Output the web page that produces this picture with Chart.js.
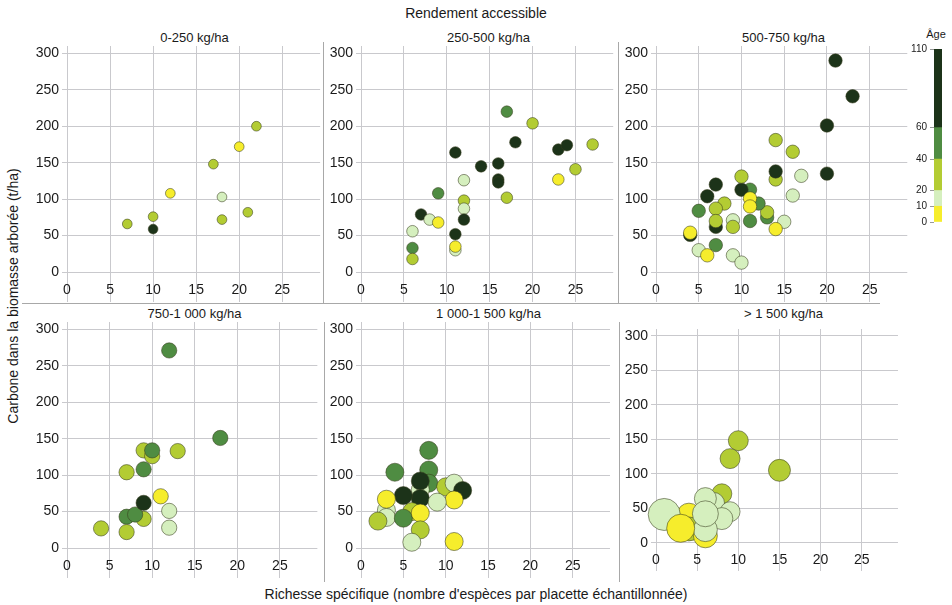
<!DOCTYPE html>
<html><head><meta charset="utf-8">
<script src="https://cdn.jsdelivr.net/npm/chart.js@4.4.1/dist/chart.umd.min.js"></script>
<style>
html,body{margin:0;padding:0;background:#fff;}
body{width:952px;height:605px;position:relative;overflow:hidden;font-family:"Liberation Sans",Arial,Helvetica,sans-serif;color:#1a1a1a;}
canvas{position:absolute;}
.t{position:absolute;font-size:13px;line-height:15px;text-align:center;white-space:nowrap;}
.sep{position:absolute;background:#a8a8a8;}
</style></head><body>
<div class="t" style="left:0;width:952px;top:5px;font-size:14px;line-height:16px;">Rendement accessible</div>
<div class="t" style="left:0;width:952px;top:586px;font-size:14px;line-height:16px;">Richesse spécifique (nombre d'espèces par placette échantillonnée)</div>
<div class="t" style="left:-137px;top:288px;width:300px;font-size:14px;line-height:16px;transform:rotate(-90deg);">Carbone dans la biomasse arborée (t/ha)</div>
<div class="t" style="left:920px;width:32px;top:28px;font-size:11px;line-height:13px;">Âge</div>
<div id="titles"></div>
<div class="sep" style="left:323px;top:42px;width:1px;height:261px;"></div>
<div class="sep" style="left:618px;top:42px;width:1px;height:261px;"></div>
<div class="sep" style="left:22px;top:303px;width:858px;height:1px;"></div>
<div class="sep" style="left:324px;top:322px;width:1px;height:260px;"></div>
<div class="sep" style="left:619px;top:322px;width:1px;height:260px;"></div>
<script>
// ---- Data ----
const panelTitles = ['0-250 kg/ha','250-500 kg/ha','500-750 kg/ha','750-1 000 kg/ha','1 000-1 500 kg/ha','> 1 500 kg/ha'];
const xTicks = [0,5,10,15,20,25];
const yTicks = [0,50,100,150,200,250,300];
const ageBreaks = [0,10,20,40,60,110];
const ageColors = ['#f6ed2c','#d5efbe','#b3cc33','#4f8c42','#1c3319'];
// representative yield (kg/ha) of each class, used for bubble size
const panelYield = [125,375,625,875,1250];

// Panel 1 : 0-250 kg/ha
const p1Richesse = [7,10,10,12,17,18,18,20,21,22];
const p1Carbone  = [66,76,59,108,148,103,72,172,82,200];
const p1Age      = [30,30,80,5,30,15,30,5,30,30];

// Panel 2 : 250-500 kg/ha
const p2Richesse = [6,6,6,7,8,9,9,11,11,11,11,12,12,12,12,14,16,16,16,17,17,18,20,23,24,23,25,27];
const p2Carbone  = [56,33,18,79,72,108,68,164,52,30,35,126,98,87,72,145,149,127,123,220,102,178,204,168,174,127,141,175];
const p2Age      = [15,50,30,80,15,50,5,80,80,15,5,15,30,15,80,80,80,80,80,50,30,80,30,80,80,5,30,30];

// Panel 3 : 500-750 kg/ha
const p3Richesse = [21,23,20,20,14,16,17,14,14,16,15,14,13,13,12,11,10,10,11,11,11,8,7,7,6,5,7,7,9,9,4,4,7,5,6,9,10];
const p3Carbone  = [290,241,201,135,181,165,132,127,138,105,69,59,75,82,94,113,113,131,101,90,70,94,87,120,104,84,62,70,71,62,51,54,37,30,23,23,13];
const p3Age      = [80,80,80,80,30,30,15,30,80,15,15,5,50,30,50,50,80,30,5,5,50,30,30,80,80,50,80,30,15,30,80,5,50,15,5,15,15];

// Panel 4 : 750-1 000 kg/ha
const p4Richesse = [12,18,9,10,10,13,7,9,11,9,7,8,9,12,12,7,4];
const p4Carbone  = [271,151,134,126,134,133,104,108,71,40,43,46,62,51,28,22,27];
const p4Age      = [50,50,30,30,50,30,30,50,5,30,50,50,80,15,15,30,30];

// Panel 5 : 1 000-1 500 kg/ha
const p5Richesse = [8,8,4,8,7,7,7,5,10,11,12,11,9,3,3,2,6,5,3,7,7,6,11];
const p5Carbone  = [134,107,104,89,80,92,68,72,84,89,79,66,63,52,42,37,50,41,67,48,25,8,9];
const p5Age      = [50,50,50,50,15,80,80,80,30,15,80,5,15,15,15,30,30,50,5,5,30,15,5];

// Panel 6 : > 1 500 kg/ha (yield estimated per plot from bubble size)
const p6Richesse = [10,9,15,8,7,6,9,8,4,4,6,6,1,3,6];
const p6Carbone  = [148,122,105,71,57,64,45,35,40,20,10,19,41,21,42];
const p6Age      = [30,30,30,30,15,15,15,15,5,30,5,15,15,5,15];
const p6Yield    = [1510,1510,1780,1510,1780,1780,1510,1780,2050,2050,2050,2050,3140,2600,2320];

// ---- Rendering ----
const FONT = '"Liberation Sans", Arial, Helvetica, sans-serif';
const gridColor = '#c9c9cd';
function ageColor(a){ for(let i=0;i<ageColors.length;i++){ if(a<ageBreaks[i+1]) return ageColors[i]; } return ageColors[ageColors.length-1]; }
function rayon(y){ return 4.4 + 0.0037*y; }

const panels = [
  [p1Richesse,p1Carbone,p1Age,p1Richesse.map(()=>panelYield[0])],
  [p2Richesse,p2Carbone,p2Age,p2Richesse.map(()=>panelYield[1])],
  [p3Richesse,p3Carbone,p3Age,p3Richesse.map(()=>panelYield[2])],
  [p4Richesse,p4Carbone,p4Age,p4Richesse.map(()=>panelYield[3])],
  [p5Richesse,p5Carbone,p5Age,p5Richesse.map(()=>panelYield[4])],
  [p6Richesse,p6Carbone,p6Age,p6Yield]
];
const colLeft = [27,321,616];
const rowTop = [36,312];
const W = 299, H = 276, YW = 40, PAD_T = 10, PAD_B = 10, PAD_R = 4;

panels.forEach((p,idx)=>{
  const col = idx%3, row = Math.floor(idx/3);
  const cv = document.createElement('canvas');
  cv.width = W; cv.height = H;
  cv.style.left = colLeft[col]+'px'; cv.style.top = rowTop[row]+'px';
  cv.style.width = W+'px'; cv.style.height = H+'px';
  document.body.appendChild(cv);
  const t = document.createElement('div');
  t.className = 't';
  t.style.left = (colLeft[col]+YW)+'px';
  t.style.width = (W-YW-PAD_R)+'px';
  t.style.top = (rowTop[row]-6)+'px';
  t.textContent = panelTitles[idx];
  document.getElementById('titles').appendChild(t);
  const [xs,ys,ages,yields] = p;
  new Chart(cv,{
    type:'bubble',
    data:{datasets:[{
      data: xs.map((x,i)=>({x:x,y:ys[i],r:rayon(yields[i])})),
      backgroundColor: ages.map(ageColor),
      borderColor: 'rgba(55,60,30,0.55)',
      borderWidth: 1,
      clip: false
    }]},
    options:{
      responsive:false, animation:false, events:[],
      layout:{padding:{top:PAD_T,bottom:PAD_B,right:PAD_R,left:0}},
      plugins:{legend:{display:false},tooltip:{enabled:false}},
      scales:{
        x:{type:'linear',min:0,max:29.4,position:{y:-13},
          afterBuildTicks:s=>{s.ticks = xTicks.map(v=>({value:v}));},
          afterFit:s=>{s.paddingLeft=0;s.paddingRight=0;},
          grid:{color:gridColor,drawTicks:false,lineWidth:1},
          border:{display:false},
          ticks:{padding:0,color:'#1a1a1a',font:{size:14,family:FONT},maxRotation:0,autoSkip:false}},
        y:{type:'linear',min:-41,max:310,
          afterBuildTicks:s=>{s.ticks = yTicks.map(v=>({value:v}));},
          afterFit:s=>{s.width=YW;s.paddingTop=0;s.paddingBottom=0;},
          grid:{color:gridColor,drawTicks:true,tickLength:5,lineWidth:1},
          border:{display:false},
          ticks:{padding:3,color:'#1a1a1a',font:{size:14,family:FONT},autoSkip:false}}
      }
    }
  });
});

// Colour bar (age legend)
(function(){
  const cv = document.createElement('canvas');
  const cw = 52, ch = 193;
  cv.width = cw; cv.height = ch;
  cv.style.left = '890px'; cv.style.top = '39px';
  cv.style.width = cw+'px'; cv.style.height = ch+'px';
  document.body.appendChild(cv);
  new Chart(cv,{
    type:'bar',
    data:{labels:['Âge'],datasets:ageColors.map((c,i)=>({
      data:[[ageBreaks[i],ageBreaks[i+1]]],
      backgroundColor:c, borderWidth:0, barPercentage:1, categoryPercentage:1
    }))},
    options:{
      responsive:false, animation:false, events:[],
      layout:{padding:{top:10,bottom:10,right:0,left:0}},
      plugins:{legend:{display:false},tooltip:{enabled:false}},
      scales:{
        x:{display:false,stacked:true},
        y:{min:0,max:110,stacked:false,
          afterBuildTicks:s=>{s.ticks = ageBreaks.map(v=>({value:v}));},
          afterFit:s=>{s.width=44;s.paddingTop=0;s.paddingBottom=0;},
          grid:{drawOnChartArea:false,drawTicks:true,tickLength:4,color:'#999'},
          border:{display:false},
          ticks:{padding:3,color:'#1a1a1a',font:{size:10,family:FONT},autoSkip:false}}
      }
    }
  });
})();
</script>
</body></html>
